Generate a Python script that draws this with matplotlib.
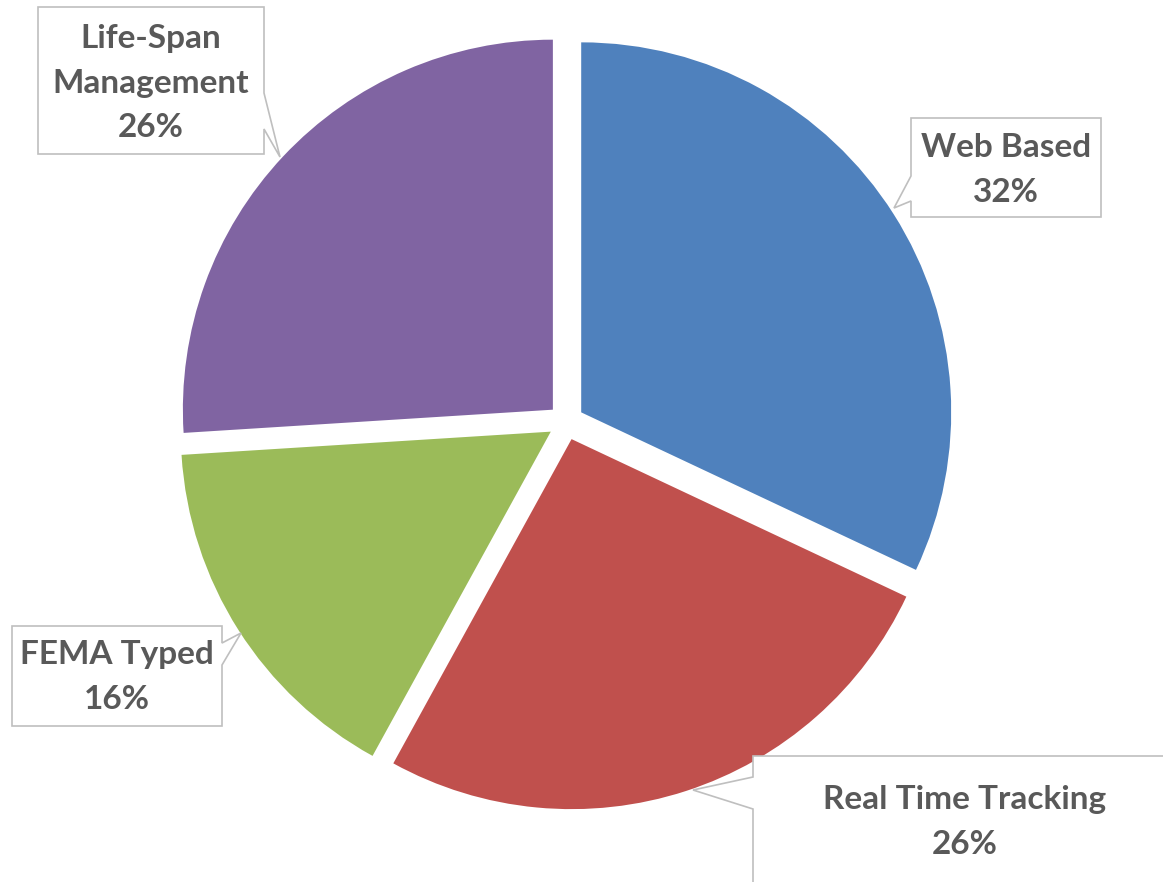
import matplotlib
matplotlib.use("Agg")
import matplotlib.pyplot as plt
from matplotlib.patches import Polygon

# ---- data ----
categories = ["Web Based", "Real Time Tracking", "FEMA Typed", "Life-Span\nManagement"]
shares = [32, 26, 16, 26]
colors = ["#4F81BD", "#C0504D", "#9BBB59", "#8064A2"]

# ---- layout (pixels) ----
W, H = 1163, 882
CX, CY, R = 566, 422, 370
EXPLODE_PX = 18

fig = plt.figure(figsize=(W / 100, H / 100), dpi=100)

# pie axes in units of radius
axp = fig.add_axes([0, 0, 1, 1])
axp.pie(shares, colors=colors, startangle=90, counterclock=False, radius=1,
        explode=[EXPLODE_PX / R] * len(shares),
        wedgeprops=dict(linewidth=0))
axp.set_aspect("auto")
axp.set_xlim(-CX / R, (W - CX) / R)
axp.set_ylim(-(H - CY) / R, CY / R)
axp.axis("off")

# annotation axes in pixel coords (y downward)
axa = fig.add_axes([0, 0, 1, 1])
axa.set_xlim(0, W)
axa.set_ylim(H, 0)
axa.axis("off")
axa.patch.set_alpha(0)

callouts = [
    [(911, 118), (1101, 118), (1101, 217), (911, 217), (911, 201), (894, 208), (911, 176)],
    [(753, 756), (1175, 756), (1175, 895), (753, 895), (753, 809), (693, 790), (753, 777)],
    [(12, 626), (222, 626), (222, 643), (241, 633), (222, 665), (222, 726), (12, 726)],
    [(38, 7), (264, 7), (264, 93), (280, 157), (264, 129), (264, 154), (38, 154)],
]
text_pos = [(1006, 170), (965, 822), (117, 677), (151, 83)]

for cat, val, poly, (tx, ty) in zip(categories, shares, callouts, text_pos):
    axa.add_patch(Polygon(poly, closed=True, facecolor="white", edgecolor="#BFBFBF",
                          linewidth=1.2, clip_on=False))
    axa.text(tx, ty, f"{cat}\n{val}%", ha="center", va="center", fontsize=24,
             fontweight="bold", family=["Lato", "DejaVu Sans"], color="#595959",
             linespacing=1.65)

fig.savefig("out.png", dpi=100)
